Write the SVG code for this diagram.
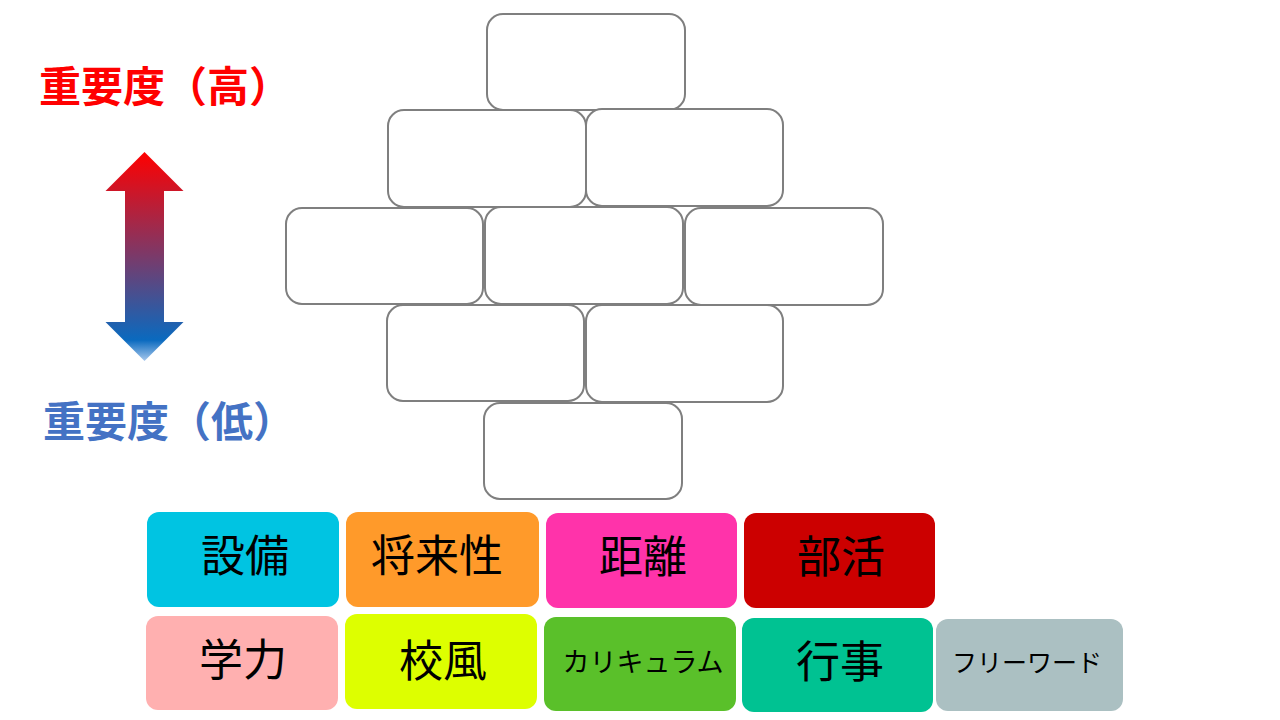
<svg xmlns="http://www.w3.org/2000/svg" width="1280" height="720" viewBox="0 0 1280 720">
<style>
.slot{fill:#fff;stroke:#7f7f7f;stroke-width:2}
.lbl{font-family:"Noto Sans CJK JP","Noto Sans CJK SC",sans-serif;font-weight:bold;font-size:42px}
.tt{font-family:"Noto Sans CJK JP","Noto Sans CJK SC",sans-serif;fill:#000;text-anchor:middle}
.big{font-size:44px}
</style>
<defs>
<linearGradient id="grad" x1="0" y1="0" x2="0" y2="1">
<stop offset="0" stop-color="#ff0000"/>
<stop offset="0.5" stop-color="#7a3a6a"/>
<stop offset="0.9" stop-color="#0a6abf"/>
<stop offset="1" stop-color="#a8c8ec"/>
</linearGradient>
</defs>
<rect width="1280" height="720" fill="#fff"/>
<g id="label-high"><text class="lbl" x="39" y="102" fill="#ff0000">重要度（高）</text></g>
<g id="label-low"><text class="lbl" x="43" y="437" fill="#4472c4">重要度（低）</text></g>
<g id="arrow"><polygon points="144.5,152 183.5,191 164,191 164,322 183.5,322 144.5,361 105.5,322 125,322 125,191 105.5,191" fill="url(#grad)"/></g>
<g id="pyramid">
<g id="slot1"><rect class="slot" x="487" y="14" width="198" height="96" rx="16"/></g>
<g id="slot2"><rect class="slot" x="388" y="110" width="198" height="97" rx="16"/></g>
<g id="slot3"><rect class="slot" x="586" y="109" width="197" height="97" rx="16"/></g>
<g id="slot4"><rect class="slot" x="286" y="208" width="197" height="96" rx="16"/></g>
<g id="slot5"><rect class="slot" x="485" y="207" width="198" height="97" rx="16"/></g>
<g id="slot6"><rect class="slot" x="685" y="208" width="198" height="97" rx="16"/></g>
<g id="slot7"><rect class="slot" x="387" y="305" width="197" height="96" rx="16"/></g>
<g id="slot8"><rect class="slot" x="586" y="305" width="197" height="97" rx="16"/></g>
<g id="slot9"><rect class="slot" x="484" y="403" width="198" height="96" rx="16"/></g>
</g>
<g id="tiles">
<g id="t-setsubi"><rect x="147" y="512" width="192" height="95" rx="12" fill="#00c4e2"/><text class="tt big" x="245" y="572">設備</text></g>
<g id="t-shorai"><rect x="346" y="512" width="193" height="95" rx="12" fill="#ff9a2a"/><text class="tt big" x="437" y="572">将来性</text></g>
<g id="t-kyori"><rect x="546" y="513" width="191" height="95" rx="12" fill="#ff33aa"/><text class="tt big" x="643" y="573">距離</text></g>
<g id="t-bukatsu"><rect x="744" y="513" width="191" height="95" rx="12" fill="#cc0000"/><text class="tt big" x="841" y="573">部活</text></g>
<g id="t-gakuryoku"><rect x="146" y="616" width="192" height="94" rx="12" fill="#ffb0b0"/><text class="tt big" x="243" y="676">学力</text></g>
<g id="t-kofu"><rect x="345" y="614" width="192" height="95" rx="12" fill="#ddff00"/><text class="tt big" x="443" y="677">校風</text></g>
<g id="t-curr"><rect x="544" y="617" width="192" height="94" rx="12" fill="#5ac02a"/><text class="tt" x="643" y="672" font-size="27">カリキュラム</text></g>
<g id="t-gyoji"><rect x="742" y="618" width="191" height="94" rx="12" fill="#00c292"/><text class="tt big" x="840" y="678">行事</text></g>
<g id="t-free"><rect x="936" y="619" width="187" height="92" rx="12" fill="#abc0c2"/><text class="tt" x="1027" y="672" font-size="25" fill="#222">フリーワード</text></g>
</g>
</svg>
